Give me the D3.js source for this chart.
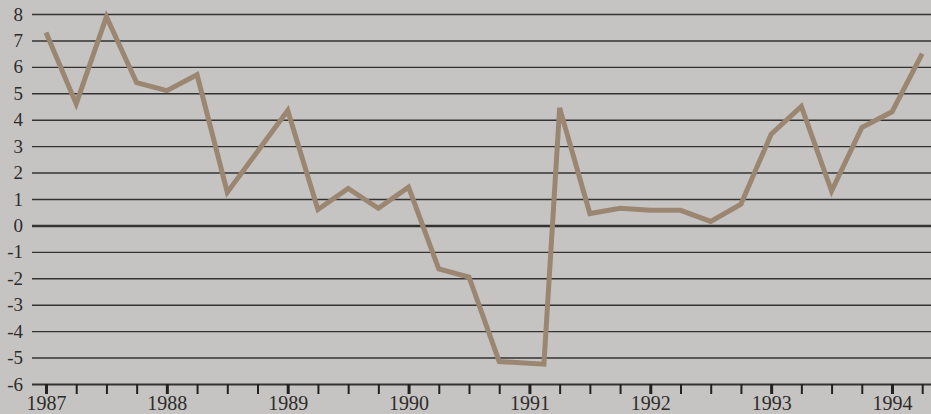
<!DOCTYPE html>
<html>
<head>
<meta charset="utf-8">
<script src="https://cdn.jsdelivr.net/npm/d3@7"></script>
<style>
  html, body { margin: 0; padding: 0; background: #c6c4c2; }
  svg { display: block; }
  text { font-family: "Liberation Serif", "Times New Roman", serif; fill: #2e2c2b; }
</style>
</head>
<body>
<div class="container"></div>
<script>
// quarterly observations, as decimal years (one point in early 1991 sits a little off the quarter in the original)
const dates = [
  1987, 1987.25, 1987.5, 1987.75,
  1988, 1988.25, 1988.5, 1988.75,
  1989, 1989.25, 1989.5, 1989.75,
  1990, 1990.25, 1990.5, 1990.75,
  1991.12, 1991.25, 1991.5, 1991.75,
  1992, 1992.25, 1992.5, 1992.75,
  1993, 1993.25, 1993.5, 1993.75,
  1994, 1994.25
];
// % change
const values = [
  7.3, 4.6, 7.9, 5.4,
  5.1, 5.7, 1.25, 2.8,
  4.35, 0.6, 1.4, 0.65,
  1.45, -1.65, -1.95, -5.15,
  -5.25, 4.45, 0.45, 0.65,
  0.57, 0.57, 0.15, 0.8,
  3.45, 4.5, 1.3, 3.7,
  4.3, 6.5
];
const years = [1987, 1988, 1989, 1990, 1991, 1992, 1993, 1994];
const yTicks = [8, 7, 6, 5, 4, 3, 2, 1, 0, -1, -2, -3, -4, -5, -6];

const w = 931;
const h = 414;

const svg = d3.select(".container")
  .append("svg")
  .attr("width", w)
  .attr("height", h);

const x = d3.scaleLinear().domain([1987, 1994]).range([46, 892]);
const y = d3.scaleLinear().domain([-6, 8]).range([384, 14]);

// horizontal rules + left labels (plain hyphen for negatives, as printed)
const gridLeft = 32;
const yAxis = d3.axisLeft(y)
  .tickValues(yTicks)
  .tickSize(-(w - gridLeft))
  .tickPadding(9)
  .tickFormat(d => String(d));

const gy = svg.append("g")
  .attr("transform", `translate(${gridLeft},0)`)
  .call(yAxis);
gy.select(".domain").remove();
gy.selectAll(".tick line")
  .attr("stroke", "#333")
  .attr("stroke-width", d => d === 0 ? 2.6 : (d === -6 ? 1.8 : 1.4));
gy.selectAll(".tick text")
  .style("font-size", "19px")
  .attr("fill", "#2e2c2b");

// quarter ticks under the bottom rule
const quarterTicks = [];
years.forEach(yr => [0, 0.25, 0.5, 0.75].forEach(q => quarterTicks.push(yr + q)));
quarterTicks.splice(quarterTicks.length - 2); // ends at 1994 Q2

const xAxis = d3.axisBottom(x)
  .tickValues(quarterTicks)
  .tickSize(10)
  .tickPadding(2)
  .tickFormat(d => years.includes(d) ? String(d) : "");

const gx = svg.append("g")
  .attr("transform", `translate(0,${y(-6)})`)
  .call(xAxis);
gx.select(".domain").remove();
gx.selectAll(".tick line")
  .attr("stroke", "#222")
  .attr("stroke-width", d => years.includes(d) ? 3 : 2);
gx.selectAll(".tick text")
  .style("font-size", "20px")
  .attr("fill", "#2e2c2b");

// the series
const line = d3.line()
  .x((d, i) => x(dates[i]))
  .y(d => y(d));

svg.append("path")
  .datum(values)
  .attr("fill", "none")
  .attr("stroke", "#9b8771")
  .attr("stroke-width", 5)
  .attr("stroke-linejoin", "miter")
  .attr("d", line);
</script>
</body>
</html>
